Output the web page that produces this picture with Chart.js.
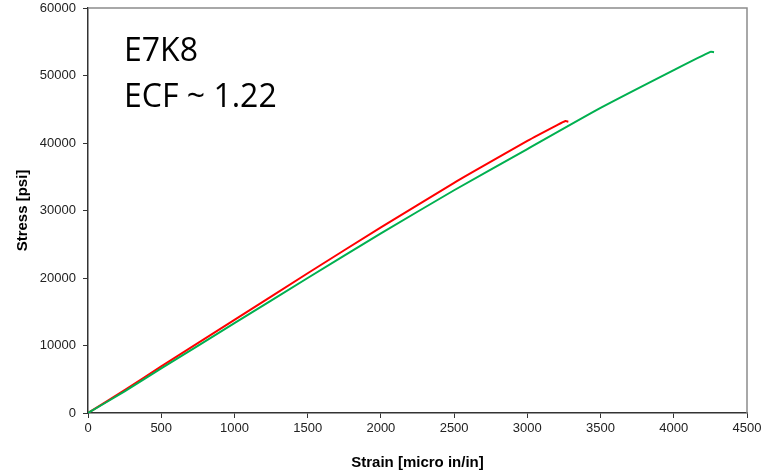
<!DOCTYPE html>
<html>
<head>
<meta charset="utf-8">
<script src="https://cdn.jsdelivr.net/npm/chart.js@4"></script>
<style>
  html, body { margin: 0; padding: 0; background: #fff; }
  #wrap { width: 765px; height: 472px; }
</style>
</head>
<body>
<div id="wrap"><canvas id="stressChart" width="765" height="472"></canvas></div>
<script>
// strain [micro in/in] and stress [psi]
const redStrain = [0, 250, 500, 1000, 1500, 2000, 2500, 2700, 3000, 3200, 3260, 3280];
const redStress = [0, 3400, 6900, 13800, 20700, 27500, 34100, 36600, 40300, 42600, 43250, 43150];

const greenStrain = [0, 250, 500, 1000, 1500, 2000, 2500, 3000, 3500, 4000, 4250, 4275];
const greenStress = [0, 3200, 6600, 13300, 20000, 26600, 33000, 39100, 45200, 50800, 53500, 53450];

const annotationLines = ['E7K8', 'ECF ~ 1.22'];

function toPoints(xs, ys) {
    return xs.map((x, i) => ({ x: x, y: ys[i] }));
}

// gray frame on top/right + the text block in the corner
const framePlugin = {
    id: 'frame',
    beforeDatasetsDraw(chart) {
        const { ctx, chartArea: a } = chart;
        ctx.save();
        ctx.strokeStyle = '#8c8c8c';
        ctx.lineWidth = 1.5;
        ctx.beginPath();
        ctx.moveTo(a.left, a.top);
        ctx.lineTo(a.right, a.top);
        ctx.lineTo(a.right, a.bottom);
        ctx.stroke();
        ctx.restore();
    },
    afterDraw(chart) {
        const { ctx } = chart;
        ctx.save();
        ctx.fillStyle = '#000';
        ctx.font = '32px "Open Sans", "Noto Sans", sans-serif';
        ctx.textBaseline = 'middle';
        ctx.fillText(annotationLines[0], 124, 52);
        ctx.fillText(annotationLines[1], 124, 98);
        ctx.restore();
    }
};

const plainNumber = (value) => String(value);

const ctx = document.getElementById('stressChart').getContext('2d');
const myChart = new Chart(ctx, {
    type: 'scatter',
    data: {
        datasets: [
            {
                label: 'Gage',
                data: toPoints(greenStrain, greenStress),
                showLine: true,
                borderColor: '#00b050',
                borderWidth: 2,
                pointRadius: 0,
                tension: 0.2
            },
            {
                label: 'Fiber',
                data: toPoints(redStrain, redStress),
                showLine: true,
                borderColor: '#ff0000',
                borderWidth: 2,
                pointRadius: 0,
                tension: 0.2
            }
        ]
    },
    options: {
        responsive: false,
        animation: false,
        layout: { padding: { top: 8, right: 18, left: 0, bottom: 0 } },
        plugins: {
            legend: { display: false },
            tooltip: { enabled: false }
        },
        scales: {
            x: {
                type: 'linear',
                min: 0,
                max: 4500,
                afterFit(scale) { scale.height = 59; scale.paddingRight = 0; },
                ticks: {
                    stepSize: 500,
                    maxRotation: 0,
                    color: '#222',
                    padding: 3,
                    callback: plainNumber,
                    font: { family: '"Liberation Sans", Arial, sans-serif', size: 13 }
                },
                grid: { drawOnChartArea: false, tickLength: 5, color: '#333' },
                border: { color: '#333', width: 1.5 },
                title: {
                    display: true,
                    text: 'Strain [micro in/in]',
                    color: '#000',
                    padding: { top: 12, bottom: 0 },
                    font: { family: '"Liberation Sans", Arial, sans-serif', size: 15, weight: 'bold' }
                }
            },
            y: {
                type: 'linear',
                min: 0,
                max: 60000,
                afterFit(scale) { scale.width = 88; scale.paddingTop = 0; scale.paddingBottom = 0; },
                ticks: {
                    stepSize: 10000,
                    color: '#222',
                    padding: 7,
                    callback: plainNumber,
                    font: { family: '"Liberation Sans", Arial, sans-serif', size: 13 }
                },
                grid: { drawOnChartArea: false, tickLength: 5, color: '#333' },
                border: { color: '#333', width: 1.5 },
                title: {
                    display: true,
                    text: 'Stress [psi]',
                    color: '#000',
                    padding: { top: 14, bottom: 0 },
                    font: { family: '"Liberation Sans", Arial, sans-serif', size: 15, weight: 'bold' }
                }
            }
        }
    },
    plugins: [framePlugin]
});
</script>
</body>
</html>
